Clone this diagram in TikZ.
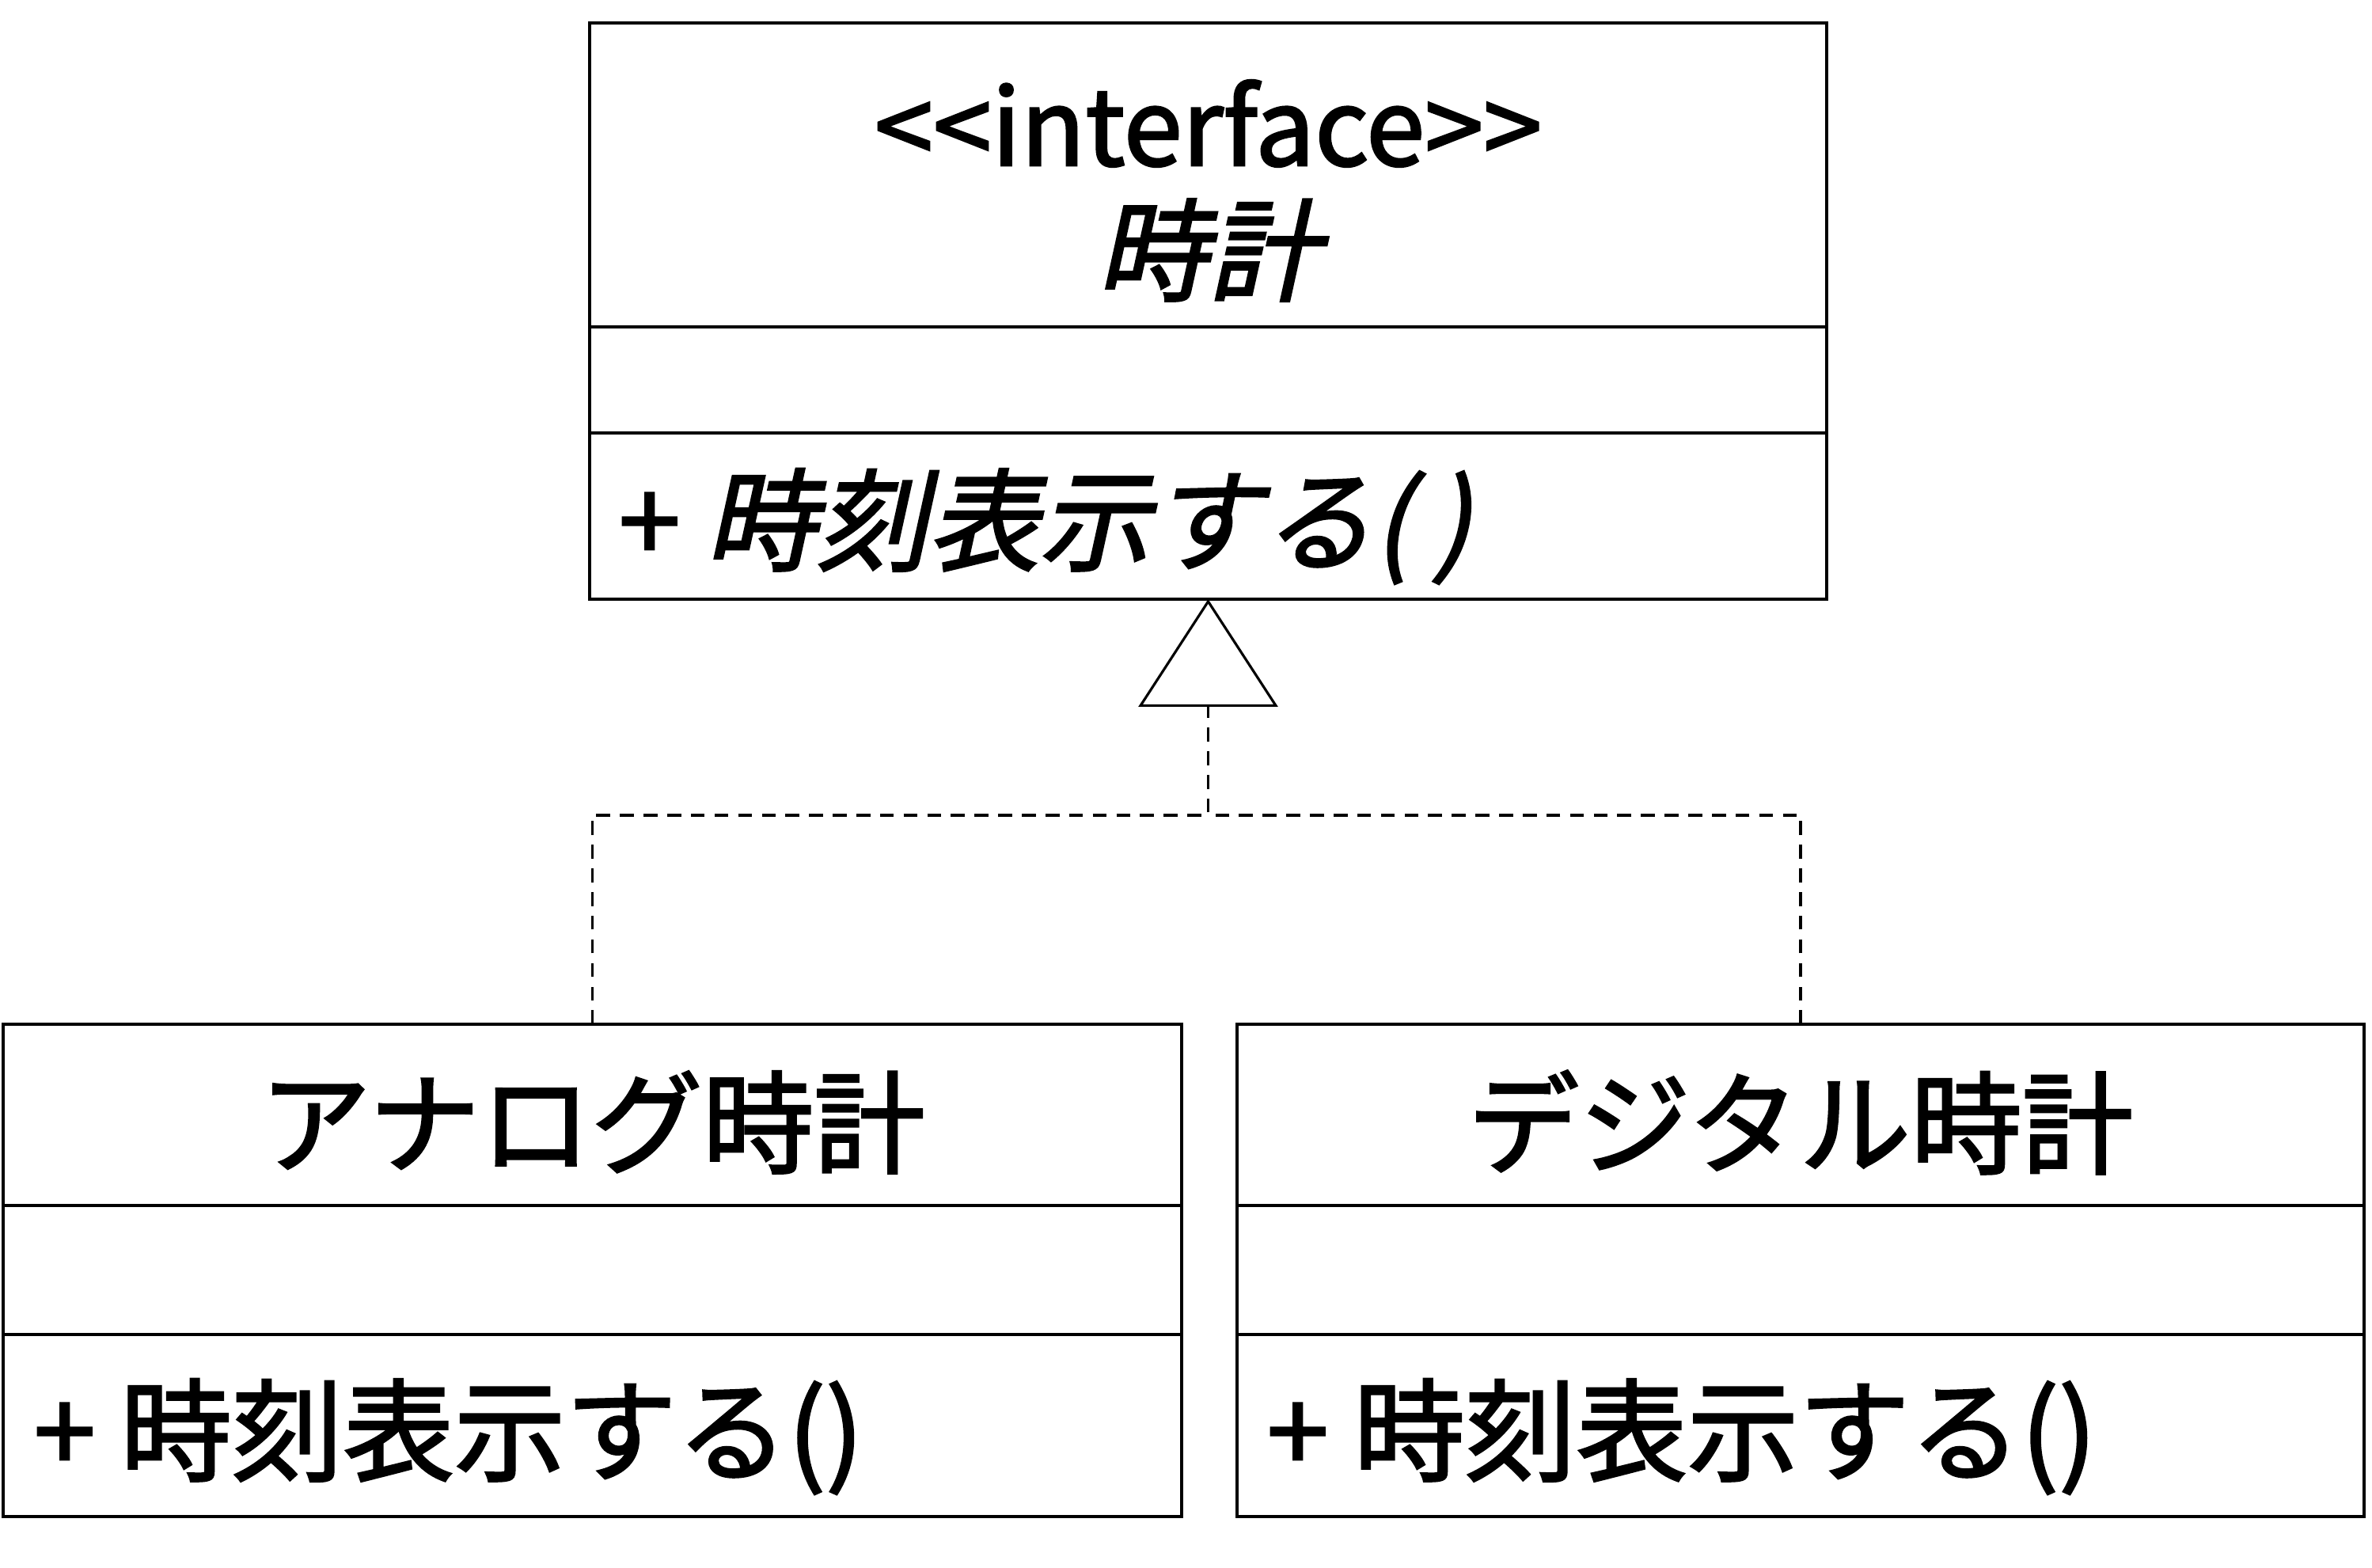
\documentclass[tikz,border=0pt]{standalone}
\usepackage{fontspec}
\newfontfamily\jpfont[FakeBold=2]{Noto Sans CJK JP}
\newfontfamily\jpslant[FakeSlant=0.22,FakeBold=2]{Noto Sans CJK JP}
\usetikzlibrary{arrows.meta}

\begin{document}
\begin{tikzpicture}[
    umlbox/.style={draw,line width=1.2pt,anchor=north west,inner sep=0pt,outer sep=0pt},
    umltext/.style={inner sep=0pt,font=\jpfont\fontsize{40}{48}\selectfont},
    realize/.style={line width=1.1pt,dash pattern=on 5pt off 3.5pt}]

\useasboundingbox (0,0) rectangle (29.97,19.80);

% interface
\node [umlbox,minimum width=15.63cm,minimum height=3.84cm] (clock-name) at (7.45,19.51) {};
\node [umlbox,minimum width=15.63cm,minimum height=1.34cm] (clock-attr) at (clock-name.south west) {};
\node [umlbox,minimum width=15.63cm,minimum height=2.10cm] (clock-ops) at (clock-attr.south west) {};

\node [umltext,font=\jpfont\fontsize{38}{46}\selectfont] (clock-stereo) at (15.265,18.24) {<<interface>>};
\node [umltext,font=\jpslant\fontsize{40}{48}\selectfont] (clock-title) at (15.265,16.64) {時計};
\node [umltext,anchor=west] (clock-method) at (7.81,13.15) {+ {\jpslant 時刻表示する(\kern0.2em)}};

% analog
\node [umlbox,minimum width=14.89cm,minimum height=2.29cm] (analog-name) at (0.04,6.86) {};
\node [umlbox,minimum width=14.89cm,minimum height=1.63cm] (analog-attr) at (analog-name.south west) {};
\node [umlbox,minimum width=14.89cm,minimum height=2.30cm] (analog-ops) at (analog-attr.south west) {};

\node [umltext] (analog-title) at (analog-name.center |- 0,5.62) {アナログ時計};
\node [umltext,anchor=west] (analog-method) at (0.42,1.65) {+ 時刻表示する()};

% digital
\node [umlbox,minimum width=14.24cm,minimum height=2.29cm] (digital-name) at (15.63,6.86) {};
\node [umlbox,minimum width=14.24cm,minimum height=1.63cm] (digital-attr) at (digital-name.south west) {};
\node [umlbox,minimum width=14.24cm,minimum height=2.30cm] (digital-ops) at (digital-attr.south west) {};

\node [umltext] (digital-title) at (digital-name.center |- 0,5.62) {デジタル時計};
\node [umltext,anchor=west] (digital-method) at (16.00,1.65) {+ 時刻表示する()};

% realization
\coordinate (joint) at (clock-ops.south |- 0,9.50);
\draw [realize,-{Triangle[open,length=1.36cm,width=1.76cm,line width=0.9pt]}]
      (analog-name.north) |- (joint) -- (clock-ops.south);
\draw [realize] (digital-name.north) |- (joint);

\end{tikzpicture}
\end{document}
